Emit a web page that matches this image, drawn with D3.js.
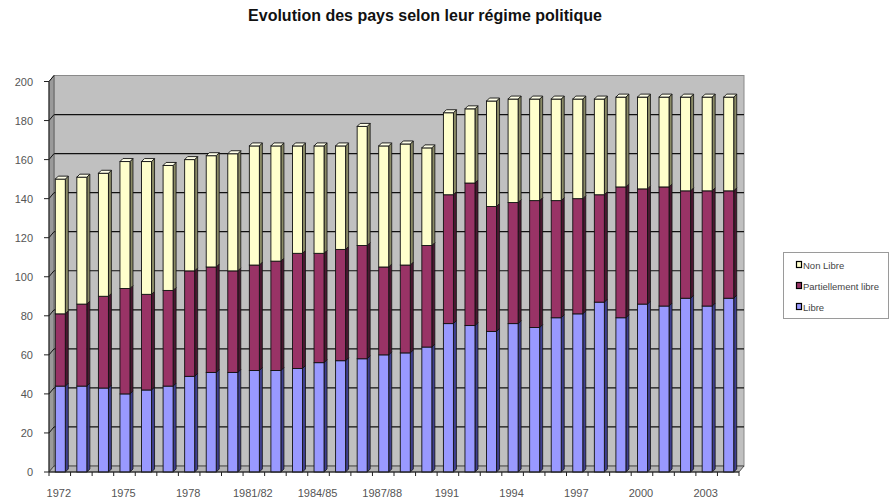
<!DOCTYPE html>
<html>
<head>
<meta charset="utf-8">
<script src="https://cdn.jsdelivr.net/npm/d3@7"></script>
<style>
  html, body { margin: 0; padding: 0; background: #fff; }
  svg { display: block; font-family: "Liberation Sans", Arial, sans-serif; }
</style>
</head>
<body>
<script>
// ---- Data ----
const categories = ["1972","1973","1974","1975","1976","1977","1978","1979","1980",
  "1981/82","1982/83","1983/84","1984/85","1985/86","1986/87","1987/88","1988/89","1989/90",
  "1991","1992","1993","1994","1995","1996","1997","1998","1999","2000","2001","2002","2003","2004"];
const libre    = [44,44,43,40,42,44,49,51,51,52,52,53,56,57,58,60,61,64,76,75,72,76,74,79,81,87,79,86,85,89,85,89];
const partiel  = [37,42,47,54,49,49,54,54,52,54,56,59,56,57,58,45,45,52,66,73,64,62,65,60,59,55,67,59,61,55,59,55];
const nonLibre = [69,65,63,65,68,64,57,57,60,61,59,55,55,53,61,62,62,50,42,38,54,53,52,52,51,49,46,47,46,48,48,48];
const seriesKeys  = ["libre","partiel","nonLibre"];
const seriesNames = ["Libre","Partiellement libre","Non Libre"];
const yTicks = [0,20,40,60,80,100,120,140,160,180,200];
const labelEvery = 3;
const title = "Evolution des pays selon leur régime politique";

// ---- Styles ----
const front = {libre:"#9999FF", partiel:"#993366", nonLibre:"#FFFFCC"};
const side  = {libre:"#3f3f8f", partiel:"#4a1831", nonLibre:"#8a8a66"};
const topC  = {libre:"#c2c2ff", partiel:"#b86a8f", nonLibre:"#ffffe8"};

const W = 890, H = 499;
const x0 = 49, x1 = 739;          // front plane x-range
const dx = 5, dy = -6;            // wall depth offset
const bd = 3;                     // bar depth

const svg = d3.select("body").append("svg").attr("width", W).attr("height", H);

const x = d3.scaleBand().domain(categories).range([x0, x1]).paddingInner(0.536).paddingOuter(0.268);
const y = d3.scaleLinear().domain([0, 200]).range([472, 81.5]);
const step = x.step();

// ---- Title ----
svg.append("text").attr("x", 425).attr("y", 21).attr("text-anchor", "middle")
  .attr("font-size", 16).attr("font-weight", "bold").attr("fill", "#111").text(title);

// ---- Back wall ----
svg.append("rect")
  .attr("x", x0 + dx).attr("y", y(200) + dy)
  .attr("width", x1 - x0).attr("height", y(0) - y(200))
  .attr("fill", "#c0c0c0").attr("stroke", "#8a8a8a").attr("stroke-width", 1);

// back gridlines
svg.append("g").selectAll("line").data(yTicks.filter(v => v > 0 && v < 200)).join("line")
  .attr("x1", x0 + dx).attr("x2", x1 + dx)
  .attr("y1", d => y(d) + dy).attr("y2", d => y(d) + dy)
  .attr("stroke", "#111").attr("stroke-width", 1.2);

// ---- Left wall ----
svg.append("path")
  .attr("d", `M${x0},${y(0)} L${x0+dx},${y(0)+dy} L${x0+dx},${y(200)+dy} L${x0},${y(200)} Z`)
  .attr("fill", "#9a9a9a").attr("stroke", "#555").attr("stroke-width", 0.8);
svg.append("g").selectAll("line").data(yTicks.filter(v => v > 0)).join("line")
  .attr("x1", x0).attr("x2", x0 + dx)
  .attr("y1", d => y(d)).attr("y2", d => y(d) + dy)
  .attr("stroke", "#111").attr("stroke-width", 1);

// ---- Floor ----
svg.append("path")
  .attr("d", `M${x0},${y(0)} L${x1},${y(0)} L${x1+dx},${y(0)+dy} L${x0+dx},${y(0)+dy} Z`)
  .attr("fill", "#b4b4b4").attr("stroke", "#333").attr("stroke-width", 0.8);

// ---- Bars ----
const rows = categories.map((c, i) => ({cat: c, libre: libre[i], partiel: partiel[i], nonLibre: nonLibre[i]}));
const stacked = d3.stack().keys(seriesKeys)(rows);
const bw = x.bandwidth();

const barG = svg.append("g");
categories.forEach((c, i) => {
  const g = barG.append("g");
  stacked.forEach(layer => {
    const key = layer.key;
    const d = layer[i];
    const bx = x(c) + 0.5, yt = y(d[1]), yb = y(d[0]);
    // side face
    g.append("path")
      .attr("d", `M${bx+bw},${yt} L${bx+bw+bd},${yt-bd} L${bx+bw+bd},${yb-bd} L${bx+bw},${yb} Z`)
      .attr("fill", side[key]).attr("stroke", "#111").attr("stroke-width", 0.8);
    // front face
    g.append("rect").attr("x", bx).attr("y", yt).attr("width", bw).attr("height", yb - yt)
      .attr("fill", front[key]).attr("stroke", "#111").attr("stroke-width", 0.9);
  });
  // top face of the stack
  const last = stacked[stacked.length - 1];
  const d = last[i];
  const bx = x(c) + 0.5, yt = y(d[1]);
  g.append("path")
    .attr("d", `M${bx},${yt} L${bx+bd},${yt-bd} L${bx+bw+bd},${yt-bd} L${bx+bw},${yt} Z`)
    .attr("fill", topC[last.key]).attr("stroke", "#111").attr("stroke-width", 0.9);
});

// ---- Y axis ----
const yAxisG = svg.append("g");
yAxisG.append("line").attr("x1", x0).attr("x2", x0).attr("y1", y(0)).attr("y2", y(200))
  .attr("stroke", "#222").attr("stroke-width", 1);
yAxisG.selectAll("line.tk").data(yTicks).join("line").attr("class", "tk")
  .attr("x1", x0 - 5).attr("x2", x0).attr("y1", d => y(d)).attr("y2", d => y(d))
  .attr("stroke", "#222").attr("stroke-width", 1);
yAxisG.selectAll("text").data(yTicks).join("text")
  .attr("x", 33).attr("y", d => y(d) + 4).attr("text-anchor", "end")
  .attr("font-size", 11).attr("fill", "#555").text(d => d);

// ---- X axis ----
const xAxisG = svg.append("g");
xAxisG.append("line").attr("x1", x0).attr("x2", x1).attr("y1", y(0)).attr("y2", y(0))
  .attr("stroke", "#222").attr("stroke-width", 1);
xAxisG.selectAll("line.tk").data(d3.range(categories.length + 1)).join("line").attr("class", "tk")
  .attr("x1", i => x0 + i * step).attr("x2", i => x0 + i * step)
  .attr("y1", y(0)).attr("y2", y(0) + 4)
  .attr("stroke", "#222").attr("stroke-width", 1);
xAxisG.selectAll("text").data(categories.filter((c, i) => i % labelEvery === 0)).join("text")
  .attr("x", c => x(c) + bw / 2 - 1).attr("y", 497).attr("text-anchor", "middle")
  .attr("font-size", 11).attr("fill", "#555").text(c => c);

// ---- Legend ----
const lg = svg.append("g");
lg.append("rect").attr("x", 783.5).attr("y", 252.5).attr("width", 105).attr("height", 66)
  .attr("fill", "#fff").attr("stroke", "#9a9a9a").attr("stroke-width", 1);
const legendItems = [
  {key: "nonLibre", name: seriesNames[2]},
  {key: "partiel",  name: seriesNames[1]},
  {key: "libre",    name: seriesNames[0]}
];
legendItems.forEach((it, k) => {
  const ly = 265 + k * 21;
  lg.append("rect").attr("x", 796.5).attr("y", ly - 3.5).attr("width", 5).attr("height", 6)
    .attr("fill", front[it.key]).attr("stroke", "#000").attr("stroke-width", 1.2);
  lg.append("text").attr("x", 803).attr("y", ly + 3.5).attr("font-size", 9.5)
    .attr("fill", "#444").text(it.name);
});
</script>
</body>
</html>
